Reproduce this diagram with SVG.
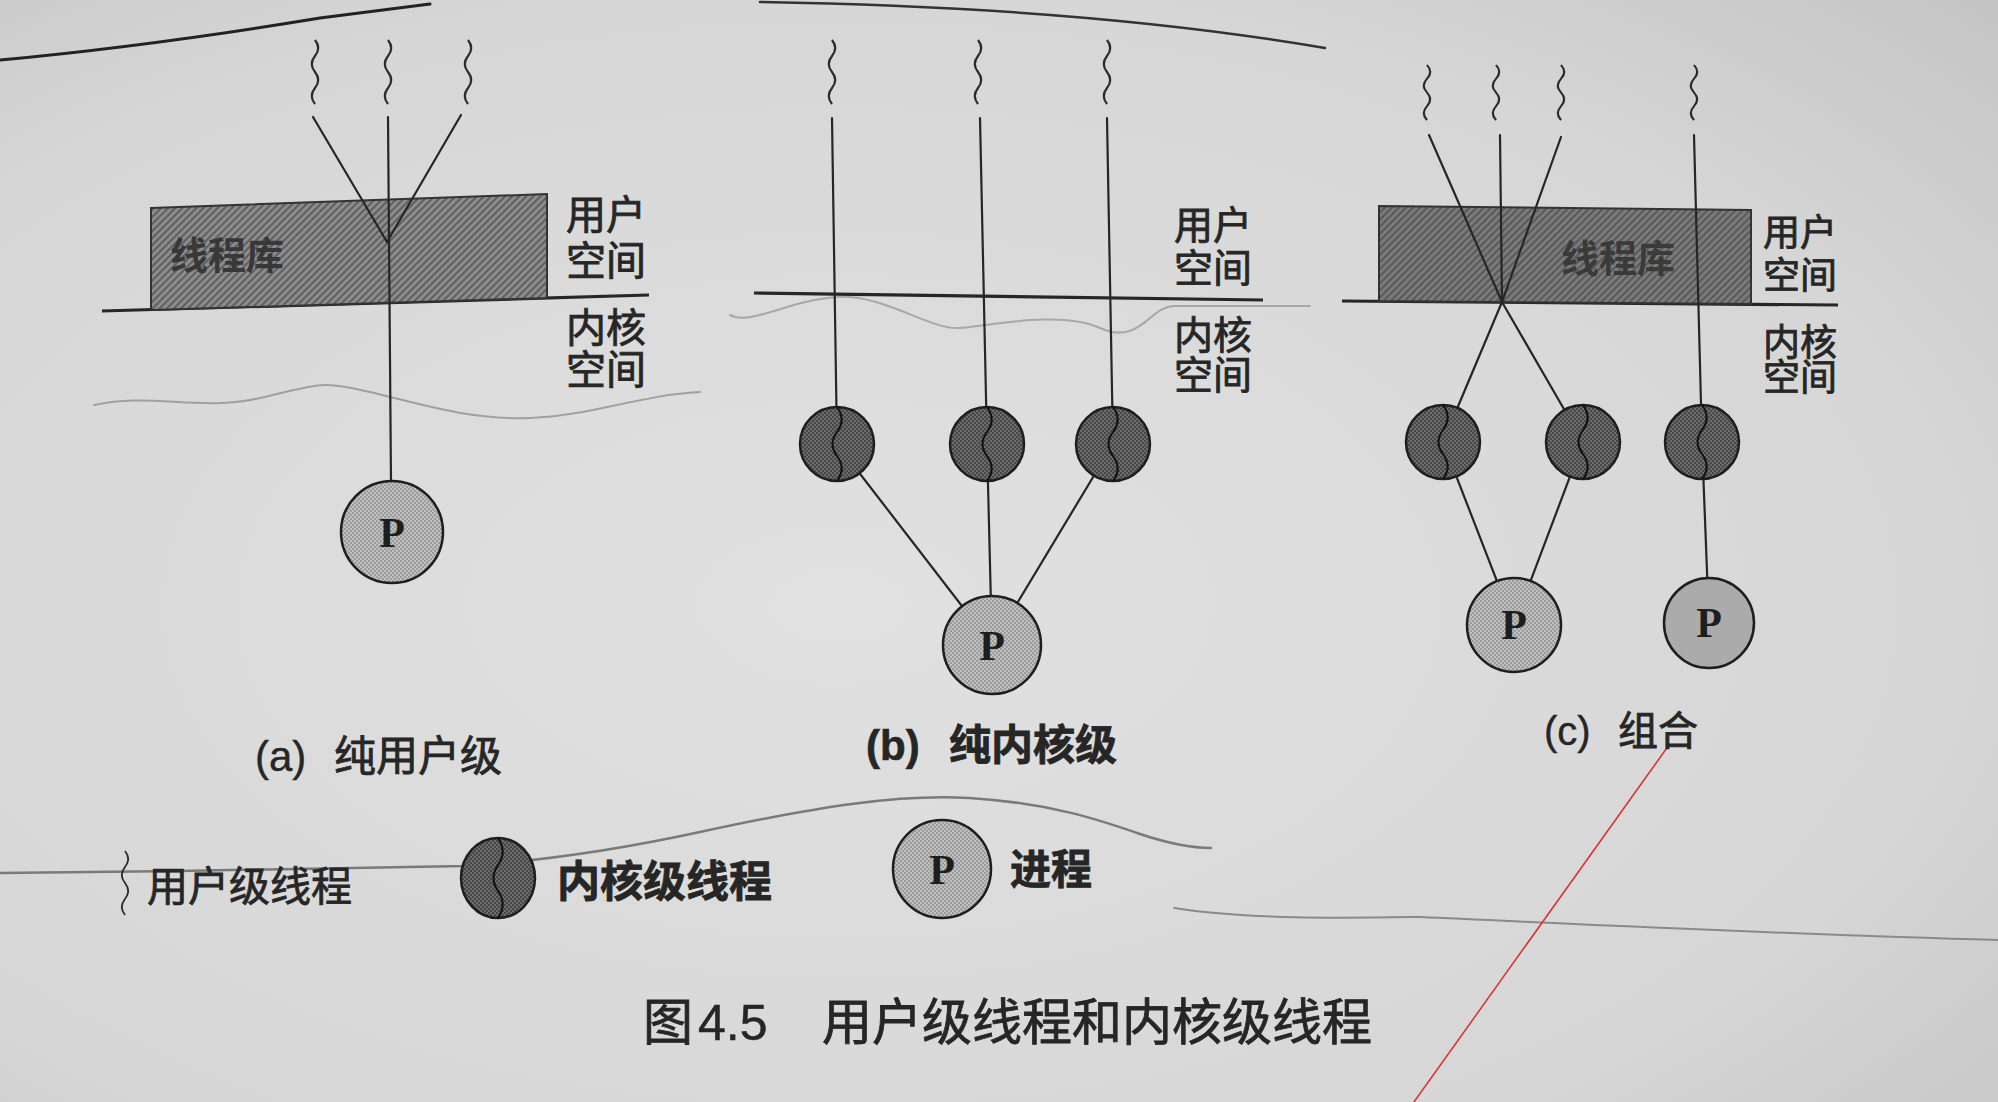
<svg xmlns="http://www.w3.org/2000/svg" width="1998" height="1102" viewBox="0 0 1998 1102">
<defs>
<radialGradient id="paper" cx="0.42" cy="0.55" r="0.8"><stop offset="0" stop-color="#e1e1e1"/><stop offset="0.7" stop-color="#d6d6d6"/><stop offset="1" stop-color="#c4c4c4"/></radialGradient>
<pattern id="hatchA" width="5" height="5" patternUnits="userSpaceOnUse" patternTransform="rotate(45)"><rect width="5" height="5" fill="#8c8c8c"/><rect width="2" height="5" fill="#5f5f5f"/></pattern>
<pattern id="hatchC" width="5" height="5" patternUnits="userSpaceOnUse" patternTransform="rotate(45)"><rect width="5" height="5" fill="#7a7a7a"/><rect width="2" height="5" fill="#595959"/></pattern>
<pattern id="kdots" width="4" height="4" patternUnits="userSpaceOnUse"><rect width="4" height="4" fill="#6c6c6c"/><circle cx="1" cy="1" r="1" fill="#3a3a3a"/><circle cx="3" cy="3" r="1" fill="#3a3a3a"/></pattern>
<pattern id="pdots" width="4" height="4" patternUnits="userSpaceOnUse"><rect width="4" height="4" fill="#c0c0c0"/><circle cx="1" cy="1" r="0.9" fill="#8a8a8a"/><circle cx="3" cy="3" r="0.9" fill="#8a8a8a"/></pattern>
<path id="sq" d="M0,0 c4,5 4,11 0,16 c-4,5 -4,11 0,16 c4,5 4,11 0,16 c-4,5 -4,11 0,16"/>
<path id="ksq" d="M0,-37 c6,8 6,17 0,25 c-6,8 -6,16 0,24 c6,8 6,17 0,25"/>
</defs>
<style>
.ln{stroke:#262626;stroke-width:2.2;fill:none;stroke-linecap:round}
.base{stroke:#262626;stroke-width:3.2;fill:none}
.sq{stroke:#2a2a2a;stroke-width:2.2;fill:none}
.kt{fill:url(#kdots);stroke:#1e1e1e;stroke-width:2.5}
.pc{fill:url(#pdots);stroke:#1e1e1e;stroke-width:2.5}
.ks{stroke:#111;stroke-width:2;fill:none}
.cjk{font-family:"Noto Sans CJK SC","Noto Sans",sans-serif;fill:#262626;stroke:#262626;stroke-width:0.8}
.lat{font-family:"Liberation Sans",Arial,sans-serif}
.pl{font-family:"Liberation Serif",serif;font-size:42px;font-weight:bold;fill:#1e1e1e;text-anchor:middle}
.mark{fill:none;stroke-linecap:round;stroke-linejoin:round}
</style>
<rect width="1998" height="1102" fill="url(#paper)"/>

<g id="pen-marks">
<path class="mark" stroke="#222" stroke-width="3" d="M0,60 Q150,46 320,18 L430,4"/>
<path class="mark" stroke="#333" stroke-width="2.5" d="M760,2 C950,5 1150,18 1325,48"/>
<path class="mark" stroke="#a0a0a0" stroke-width="2" d="M94,405 C150,392 200,412 260,398 S320,380 370,392 S470,420 530,418 S640,395 700,392"/>
<path class="mark" stroke="#a8a8a8" stroke-width="2" d="M730,315 C750,326 790,300 837,297 S930,330 959,328 S1060,310 1100,328 S1150,306 1174,306 L1310,306"/>
<path class="mark" stroke="#7a7a7a" stroke-width="2.5" d="M0,873 C150,872 350,868 464,866 C560,860 640,845 700,832 C820,806 900,794 969,798 C1050,803 1100,820 1140,834 C1170,844 1190,848 1211,848"/>
<path class="mark" stroke="#8a8a8a" stroke-width="2" d="M1174,908 C1250,920 1350,918 1420,917 C1600,925 1800,935 1998,940"/>
<path class="mark" stroke="#d23a3a" stroke-width="1.6" d="M1669,745 L1414,1102"/>
</g>

<g id="baselines">
<path class="base" d="M102,311 L649,295"/>
<path class="base" d="M754,293 L1263,300"/>
<path class="base" d="M1342,301 L1838,305"/>
</g>

<g id="a-lib">
<polygon points="151,208 547,194 547,298 151,310" fill="url(#hatchA)" stroke="#333" stroke-width="2"/>
<text class="cjk" x="170" y="269" font-size="38" font-weight="bold" style="fill:#383838;stroke:none">线程库</text>
</g>
<g id="c-lib">
<polygon points="1379,206 1751,210 1751,304 1379,301" fill="url(#hatchC)" stroke="#333" stroke-width="2"/>
<text class="cjk" x="1561" y="272" font-size="38" font-weight="bold" style="fill:#3a3a3a;stroke:none">线程库</text>
</g>

<g id="user-threads">
<use href="#sq" class="sq" x="315" y="40"/>
<use href="#sq" class="sq" x="388" y="40"/>
<use href="#sq" class="sq" x="468" y="40"/>
<use href="#sq" class="sq" x="832" y="40"/>
<use href="#sq" class="sq" x="978" y="40"/>
<use href="#sq" class="sq" x="1107" y="40"/>
<use href="#sq" class="sq" transform="translate(1427,65) scale(1,0.86)"/>
<use href="#sq" class="sq" transform="translate(1496,65) scale(1,0.86)"/>
<use href="#sq" class="sq" transform="translate(1561,65) scale(1,0.86)"/>
<use href="#sq" class="sq" transform="translate(1694,65) scale(1,0.86)"/>
</g>

<g id="connectors">
<path class="ln" d="M313,117 L387,242"/>
<path class="ln" d="M461,115 L387,242"/>
<path class="ln" d="M388,117 L391,481"/>
<path class="ln" d="M832,118 L837,444"/>
<path class="ln" d="M980,118 L987,444"/>
<path class="ln" d="M1107,118 L1113,444"/>
<path class="ln" d="M837,444 L992,645"/>
<path class="ln" d="M987,444 L992,645"/>
<path class="ln" d="M1113,444 L992,645"/>
<path class="ln" d="M1429,135 L1502,302"/>
<path class="ln" d="M1500,135 L1502,302"/>
<path class="ln" d="M1561,137 L1502,302"/>
<path class="ln" d="M1502,302 L1443,442"/>
<path class="ln" d="M1502,302 L1583,442"/>
<path class="ln" d="M1694,135 L1702,442 L1709,623"/>
<path class="ln" d="M1443,442 L1514,625"/>
<path class="ln" d="M1583,442 L1514,625"/>
</g>

<g id="a-P"><circle class="pc" cx="392" cy="532" r="51"/><text class="pl" x="392" y="547">P</text></g>

<g id="b-kt1"><circle class="kt" cx="837" cy="444" r="37"/><use href="#ksq" class="ks" x="837" y="444"/></g>
<g id="b-kt2"><circle class="kt" cx="987" cy="444" r="37"/><use href="#ksq" class="ks" x="987" y="444"/></g>
<g id="b-kt3"><circle class="kt" cx="1113" cy="444" r="37"/><use href="#ksq" class="ks" x="1113" y="444"/></g>
<g id="b-P"><circle class="pc" cx="992" cy="645" r="49"/><text class="pl" x="992" y="660">P</text></g>

<g id="c-kt1"><circle class="kt" cx="1443" cy="442" r="37"/><use href="#ksq" class="ks" x="1443" y="442"/></g>
<g id="c-kt2"><circle class="kt" cx="1583" cy="442" r="37"/><use href="#ksq" class="ks" x="1583" y="442"/></g>
<g id="c-kt3"><circle class="kt" cx="1702" cy="442" r="37"/><use href="#ksq" class="ks" x="1702" y="442"/></g>
<g id="c-P1"><circle class="pc" cx="1514" cy="625" r="47"/><text class="pl" x="1514" y="639">P</text></g>
<g id="c-P2"><circle class="pc" cx="1709" cy="623" r="45" style="fill:#ababab"/><text class="pl" x="1709" y="637">P</text></g>

<g id="space-labels" class="cjk">
<text font-size="40"><tspan x="566" y="229">用户</tspan><tspan x="566" y="275">空间</tspan></text>
<text font-size="40"><tspan x="566" y="342">内核</tspan><tspan x="566" y="384">空间</tspan></text>
<text font-size="39"><tspan x="1174" y="239">用户</tspan><tspan x="1174" y="282">空间</tspan></text>
<text font-size="39"><tspan x="1174" y="349">内核</tspan><tspan x="1174" y="389">空间</tspan></text>
<text font-size="37"><tspan x="1763" y="246">用户</tspan><tspan x="1763" y="289">空间</tspan></text>
<text font-size="37"><tspan x="1763" y="356">内核</tspan><tspan x="1763" y="391">空间</tspan></text>
</g>

<g id="sub-captions" class="cjk">
<text x="255" y="771" font-size="42"><tspan class="lat" style="stroke-width:0.4">(a)</tspan><tspan x="334">纯用户级</tspan></text>
<text x="866" y="760" font-size="42" font-weight="bold"><tspan class="lat" style="stroke-width:0.6">(b)</tspan><tspan x="949">纯内核级</tspan></text>
<text x="1544" y="745" font-size="40"><tspan class="lat" style="stroke-width:0.4">(c)</tspan><tspan x="1618">组合</tspan></text>
</g>

<g id="legend-user">
<use href="#sq" class="sq" x="125" y="851" style="stroke-width:1.8"/>
<text class="cjk" x="147" y="901" font-size="41">用户级线程</text>
</g>
<g id="legend-kernel">
<ellipse class="kt" cx="498" cy="878" rx="37" ry="40"/>
<use href="#ksq" class="ks" transform="translate(498,878) scale(1,1.08)"/>
<text class="cjk" x="557" y="897" font-size="43" font-weight="bold">内核级线程</text>
</g>
<g id="legend-process">
<circle class="pc" cx="942" cy="869" r="49"/><text class="pl" x="942" y="884">P</text>
<text class="cjk" x="1010" y="884" font-size="41" font-weight="bold">进程</text>
</g>

<g id="figure-caption" class="cjk">
<text x="643" y="1040" font-size="50">图 <tspan class="lat" x="698" style="stroke-width:0.5">4.5</tspan><tspan x="822">用户级线程和内核级线程</tspan></text>
</g>
</svg>
